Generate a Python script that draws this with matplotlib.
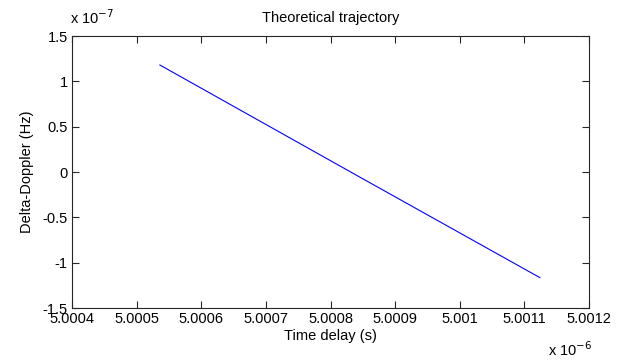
import matplotlib
matplotlib.use("Agg")
import matplotlib.pyplot as plt
from matplotlib.ticker import FixedLocator, FixedFormatter

# data
time_delay = [5.000536e-6, 5.000840e-6, 5.001124e-6]
delta_doppler = [1.18e-7, -0.035e-7, -1.165e-7]

x_ticks = [5.0004, 5.0005, 5.0006, 5.0007, 5.0008, 5.0009, 5.0010, 5.0011, 5.0012]
x_labels = ["5.0004", "5.0005", "5.0006", "5.0007", "5.0008", "5.0009", "5.001", "5.0011", "5.0012"]
y_ticks = [-1.5, -1, -0.5, 0, 0.5, 1, 1.5]
y_labels = ["-1.5", "-1", "-0.5", "0", "0.5", "1", "1.5"]

plt.rcParams["font.family"] = ["Liberation Sans", "DejaVu Sans"]
plt.rcParams["font.size"] = 10.5


def draw_chart():
	fig = plt.figure(figsize=(6.22, 3.62), dpi=100)
	ax = fig.add_axes([72 / 622, 1 - 308 / 362, 517 / 622, 272 / 362])

	xs = [t * 1e6 for t in time_delay]
	ys = [d * 1e7 for d in delta_doppler]
	ax.plot(xs, ys, color="#0000ff", linewidth=0.8)

	ax.set_xlim(5.0004, 5.0012)
	ax.set_ylim(-1.5, 1.5)
	ax.xaxis.set_major_locator(FixedLocator(x_ticks))
	ax.xaxis.set_major_formatter(FixedFormatter(x_labels))
	ax.yaxis.set_major_locator(FixedLocator(y_ticks))
	ax.yaxis.set_major_formatter(FixedFormatter(y_labels))
	ax.tick_params(direction="in", length=5, width=0.8, top=True, right=True,
		colors="#262626", labelcolor="black", pad=3)
	for sp in ax.spines.values():
		sp.set_color("#262626")
		sp.set_linewidth(0.8)

	ax.set_title("Theoretical trajectory", fontsize=10.5, pad=10)
	ax.set_xlabel("Time delay (s)", labelpad=2)
	ax.set_ylabel("Delta-Doppler (Hz)", labelpad=6)

	fig.text(70 / 622, 1 - 18 / 362, r"x 10$^{-7}$", ha="left", va="center", fontsize=10.5)
	fig.text(548 / 622, 1 - 350 / 362, r"x 10$^{-6}$", ha="left", va="center", fontsize=10.5)

	fig.savefig("out.png", dpi=100)


draw_chart()
